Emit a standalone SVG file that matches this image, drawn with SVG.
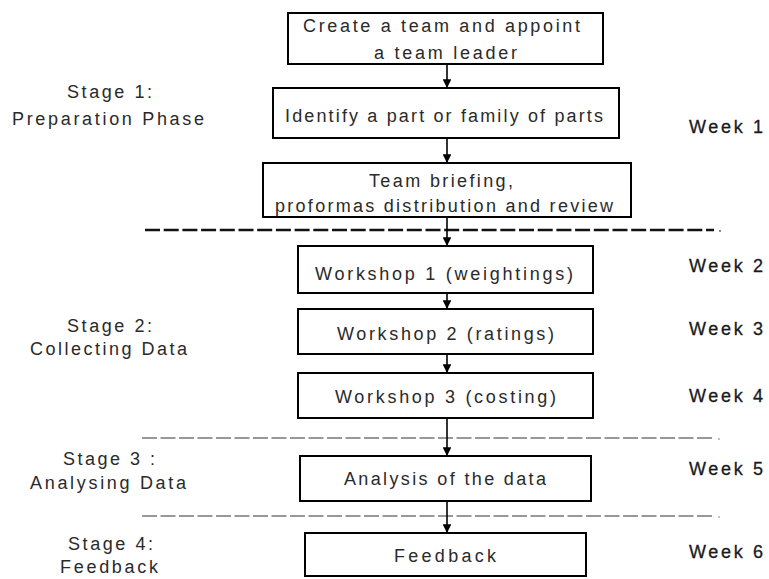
<svg xmlns="http://www.w3.org/2000/svg" width="769" height="579" viewBox="0 0 769 579">
<style>
text{font-family:"Liberation Sans",Arial,sans-serif;font-size:18px;fill:#2a2a2a}
.box{fill:#fff;stroke:#000;stroke-width:2}
.wk{fill:#1a1a1a;stroke:#1a1a1a;stroke-width:0.3}
.con{stroke:#000;stroke-width:1.6;fill:none;marker-end:url(#ah)}
.thick{stroke:#111;stroke-width:2.4;stroke-dasharray:15 3.7;fill:none}
.thin{stroke:#777;stroke-width:1.4;stroke-dasharray:15 3.5;fill:none}
</style>
<defs>
<marker id="ah" viewBox="0 0 10 10" refX="10" refY="5" markerWidth="5.5" markerHeight="5.5" orient="auto" markerUnits="strokeWidth">
<path d="M0,0 L10,5 L0,10 z" fill="#000"/>
</marker>
</defs>
<rect width="769" height="579" fill="#fff"/>
<g id="dividers">
<line class="thick" x1="145" y1="230" x2="714" y2="230"/>
<circle cx="720" cy="231" r="0.9" fill="#555"/>
<line class="thin" x1="142" y1="438" x2="714" y2="438"/>
<circle cx="719" cy="439" r="0.8" fill="#777"/>
<line class="thin" x1="142" y1="516" x2="714" y2="516"/>
<circle cx="719" cy="517" r="0.8" fill="#777"/>
</g>
<g id="connectors">
<line class="con" x1="447" y1="64" x2="447" y2="88"/>
<line class="con" x1="447" y1="138" x2="447" y2="163"/>
<line class="con" x1="447" y1="217" x2="447" y2="246"/>
<line class="con" x1="447" y1="293" x2="447" y2="309"/>
<line class="con" x1="447" y1="354" x2="447" y2="373"/>
<line class="con" x1="447" y1="418" x2="447" y2="456"/>
<line class="con" x1="447" y1="501" x2="447" y2="533"/>
</g>
<g id="n1"><rect class="box" x="288" y="13" width="315" height="51"/>
<text x="303" y="32" textLength="277" lengthAdjust="spacing">Create a team and appoint</text>
<text x="374" y="59" textLength="143" lengthAdjust="spacing">a team leader</text></g>
<g id="n2"><rect class="box" x="273" y="88" width="346" height="50"/>
<text x="285" y="122" textLength="318" lengthAdjust="spacing">Identify a part or family of parts</text></g>
<g id="n3"><rect class="box" x="263" y="163" width="368" height="54"/>
<text x="369" y="187" textLength="144" lengthAdjust="spacing">Team briefing,</text>
<text x="275" y="212" textLength="338" lengthAdjust="spacing">proformas distribution and review</text></g>
<g id="n4"><rect class="box" x="298" y="246" width="295" height="47"/>
<text x="315" y="280" textLength="258" lengthAdjust="spacing">Workshop 1 (weightings)</text></g>
<g id="n5"><rect class="box" x="298" y="309" width="295" height="45"/>
<text x="337" y="340" textLength="217" lengthAdjust="spacing">Workshop 2 (ratings)</text></g>
<g id="n6"><rect class="box" x="298" y="373" width="295" height="45"/>
<text x="335" y="403" textLength="221" lengthAdjust="spacing">Workshop 3 (costing)</text></g>
<g id="n7"><rect class="box" x="300" y="456" width="291" height="45"/>
<text x="344" y="485" textLength="202" lengthAdjust="spacing">Analysis of the data</text></g>
<g id="n8"><rect class="box" x="305" y="533" width="281" height="43"/>
<text x="394" y="562" textLength="102" lengthAdjust="spacing">Feedback</text></g>
<g id="stages">
<text x="67" y="98" textLength="85" lengthAdjust="spacing">Stage 1:</text>
<text x="12" y="125" textLength="192" lengthAdjust="spacing">Preparation Phase</text>
<text x="67" y="332" textLength="85" lengthAdjust="spacing">Stage 2:</text>
<text x="30" y="355" textLength="157" lengthAdjust="spacing">Collecting Data</text>
<text x="63" y="465" textLength="92" lengthAdjust="spacing">Stage 3 :</text>
<text x="30" y="489" textLength="156" lengthAdjust="spacing">Analysing Data</text>
<text x="68" y="550" textLength="85" lengthAdjust="spacing">Stage 4:</text>
<text x="60" y="573" textLength="98" lengthAdjust="spacing">Feedback</text>
</g>
<g id="weeks">
<text class="wk" x="689" y="133" textLength="74" lengthAdjust="spacing">Week 1</text>
<text class="wk" x="689" y="272" textLength="74" lengthAdjust="spacing">Week 2</text>
<text class="wk" x="689" y="335" textLength="74" lengthAdjust="spacing">Week 3</text>
<text class="wk" x="689" y="402" textLength="74" lengthAdjust="spacing">Week 4</text>
<text class="wk" x="689" y="475" textLength="74" lengthAdjust="spacing">Week 5</text>
<text class="wk" x="689" y="558" textLength="74" lengthAdjust="spacing">Week 6</text>
</g>
</svg>
